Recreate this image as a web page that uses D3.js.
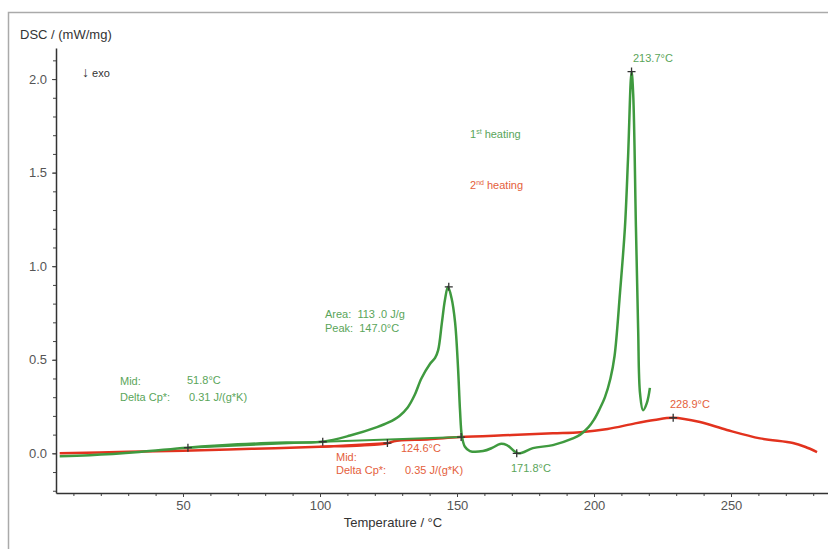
<!DOCTYPE html>
<head>
<meta charset="utf-8">
<title>DSC</title>
<style>
body {
  margin: 0;
  padding: 0;
  background: #fff;
  font-family: "Liberation Sans", Arial, sans-serif;
}
.tick text { fill: #555; font-size: 13px; }
.ann { font-size: 11px; }
</style>
</head>
<body>
<svg id="viz" width="828" height="549"></svg>
<script src="https://d3js.org/d3.v7.min.js"></script>
<script>
// 1st heating (green)
var temp1 = [5, 16, 34, 51.5, 70, 89, 101, 111, 120.8, 125, 129, 132, 134.5, 137, 140, 142, 143.1, 144.5, 145.6, 146.7, 148, 149.3, 150.4, 151.1, 151.8, 152.9, 154.7, 159.5, 163, 165.7, 168.2, 172.3, 177.7, 185, 192.3, 195, 198, 200, 202, 204, 206, 207.5, 209.5, 211.3, 212.4, 213.7, 214.3, 215.3, 216.1, 216.8, 217.9, 219.3, 220.4]
var dsc1 = [-0.015, -0.01, 0.007, 0.03, 0.048, 0.058, 0.062, 0.095, 0.14, 0.165, 0.2, 0.245, 0.31, 0.40, 0.475, 0.51, 0.55, 0.70, 0.82, 0.89, 0.83, 0.70, 0.45, 0.23, 0.09, 0.035, 0.012, 0.012, 0.03, 0.05, 0.044, 0.0, 0.028, 0.044, 0.08, 0.1, 0.14, 0.18, 0.235, 0.3, 0.4, 0.52, 0.86, 1.21, 1.57, 2.04, 1.92, 1.21, 0.67, 0.32, 0.23, 0.27, 0.35]

// 2nd heating (red)
var temp2 = [5, 30, 50, 75, 100, 115, 122, 125, 127, 140, 151, 170, 185, 195, 205, 215, 222, 228.9, 238.7, 248.5, 260.6, 272.6, 277, 281.4]
var dsc2 = [0, 0.008, 0.014, 0.024, 0.035, 0.042, 0.048, 0.055, 0.065, 0.075, 0.087, 0.098, 0.107, 0.113, 0.13, 0.16, 0.178, 0.19, 0.167, 0.125, 0.08, 0.055, 0.035, 0.007]

// baselines drawn by the evaluation
var base1 = [[51.8, 0.03], [101, 0.062], [151.5, 0.087]]
var base2 = [[100, 0.035], [124.6, 0.055]]

// evaluation markers
var marks = [[51.8, 0.03], [101, 0.062], [147, 0.89], [213.7, 2.04], [171.8, 0.0], [151.5, 0.087], [124.6, 0.055], [228.9, 0.19]]

var xMajor = [50, 100, 150, 200, 250]
var yMajor = [0, 0.5, 1.0, 1.5, 2.0]

var green = '#3f9a3f', greenText = '#5aa55a'
var red = '#e2321e', redText = '#e4603c'

var svg = d3.select('#viz')

svg.append('path')
  .attr('d', 'M8.5,549 L8.5,12.5 L828,12.5')
  .attr('fill', 'none')
  .attr('stroke', '#aaa')
  .attr('stroke-width', 1.5)

var x = d3.scaleLinear().domain([3.65, 285.4]).range([56, 828])
var y = d3.scaleLinear().domain([-0.212, 2.166]).range([493, 48])

// minor ticks
svg.append('g')
  .attr('transform', 'translate(0,493)')
  .call(d3.axisBottom(x).tickValues(d3.range(10, 290, 10)).tickSize(3).tickFormat(''))
  .call(function(g) { g.select('.domain').remove() })
  .selectAll('line').attr('stroke', '#444')
svg.append('g')
  .attr('transform', 'translate(56,0)')
  .call(d3.axisLeft(y).tickValues(d3.range(-2, 22).map(function(d) { return d / 10 })).tickSize(3).tickFormat(''))
  .call(function(g) { g.select('.domain').remove() })
  .selectAll('line').attr('stroke', '#444')

var xAxis = svg.append('g')
  .attr('transform', 'translate(0,493)')
  .call(d3.axisBottom(x).tickValues(xMajor).tickSize(4).tickPadding(4).tickSizeOuter(0))
xAxis.select('.domain').attr('stroke', '#333').attr('stroke-width', 1.5)
xAxis.selectAll('line').attr('stroke', '#444')

var yAxis = svg.append('g')
  .attr('transform', 'translate(56,0)')
  .call(d3.axisLeft(y).tickValues(yMajor).tickSize(4).tickPadding(5).tickSizeOuter(0).tickFormat(d3.format('.1f')))
yAxis.select('.domain').attr('stroke', '#333').attr('stroke-width', 1.5)
yAxis.selectAll('line').attr('stroke', '#444')

svg.append('text').attr('x', 20).attr('y', 39).attr('fill', '#333').attr('font-size', 13).text('DSC / (mW/mg)')
svg.append('text').attr('x', 393).attr('y', 527).attr('fill', '#333').attr('font-size', 13).attr('text-anchor', 'middle').text('Temperature / °C')
var exo = svg.append('text').attr('x', 82).attr('y', 77).attr('fill', '#333').attr('font-size', 11)
exo.append('tspan').attr('font-size', 14).text('↓')
exo.append('tspan').text(' exo')

var line = d3.line()
  .x(function(d) { return x(d[0]) })
  .y(function(d) { return y(d[1]) })
  .curve(d3.curveCatmullRom.alpha(0.5))

svg.append('path')
  .attr('d', d3.line().x(function(d) { return x(d[0]) }).y(function(d) { return y(d[1]) })(base2))
  .attr('fill', 'none').attr('stroke', red).attr('stroke-width', 2)
svg.append('path')
  .attr('d', line(d3.zip(temp2, dsc2)))
  .attr('fill', 'none').attr('stroke', red).attr('stroke-width', 2.5)
svg.append('path')
  .attr('d', d3.line().x(function(d) { return x(d[0]) }).y(function(d) { return y(d[1]) })(base1))
  .attr('fill', 'none').attr('stroke', green).attr('stroke-width', 2)
svg.append('path')
  .attr('d', line(d3.zip(temp1, dsc1)))
  .attr('fill', 'none').attr('stroke', green).attr('stroke-width', 2.5)

svg.append('g').selectAll('path')
  .data(marks)
  .enter().append('path')
  .attr('d', function(d) {
    var px = x(d[0]), py = y(d[1])
    return 'M' + (px - 4) + ',' + py + 'H' + (px + 4) + 'M' + px + ',' + (py - 4) + 'V' + (py + 4)
  })
  .attr('stroke', '#333').attr('stroke-width', 1.3)

var labels = [
  { x: 633, y: 62, t: '213.7°C', c: greenText },
  { x: 325, y: 318, t: 'Area:  113 .0 J/g', c: greenText },
  { x: 325, y: 332, t: 'Peak:  147.0°C', c: greenText },
  { x: 120, y: 385, t: 'Mid:', c: greenText },
  { x: 187, y: 384, t: '51.8°C', c: greenText },
  { x: 120, y: 401, t: 'Delta Cp*:', c: greenText },
  { x: 189, y: 401, t: '0.31 J/(g*K)', c: greenText },
  { x: 401, y: 452, t: '124.6°C', c: redText },
  { x: 336, y: 461, t: 'Mid:', c: redText },
  { x: 336, y: 474, t: 'Delta Cp*:', c: redText },
  { x: 405, y: 474, t: '0.35 J/(g*K)', c: redText },
  { x: 511, y: 472, t: '171.8°C', c: greenText },
  { x: 670, y: 408, t: '228.9°C', c: redText }
]
svg.append('g').selectAll('text')
  .data(labels)
  .enter().append('text')
  .attr('class', 'ann')
  .attr('x', function(d) { return d.x })
  .attr('y', function(d) { return d.y })
  .attr('fill', function(d) { return d.c })
  .attr('xml:space', 'preserve')
  .style('white-space', 'pre')
  .text(function(d) { return d.t })

function legend(yy, n, sup, c) {
  var t = svg.append('text').attr('class', 'ann').attr('x', 470).attr('y', yy).attr('fill', c)
  t.append('tspan').text(n)
  t.append('tspan').attr('font-size', 7).attr('dy', -4).text(sup)
  t.append('tspan').attr('dy', 4).text(' heating')
}
legend(138, '1', 'st', greenText)
legend(189, '2', 'nd', redText)
</script>
</body>
</html>
